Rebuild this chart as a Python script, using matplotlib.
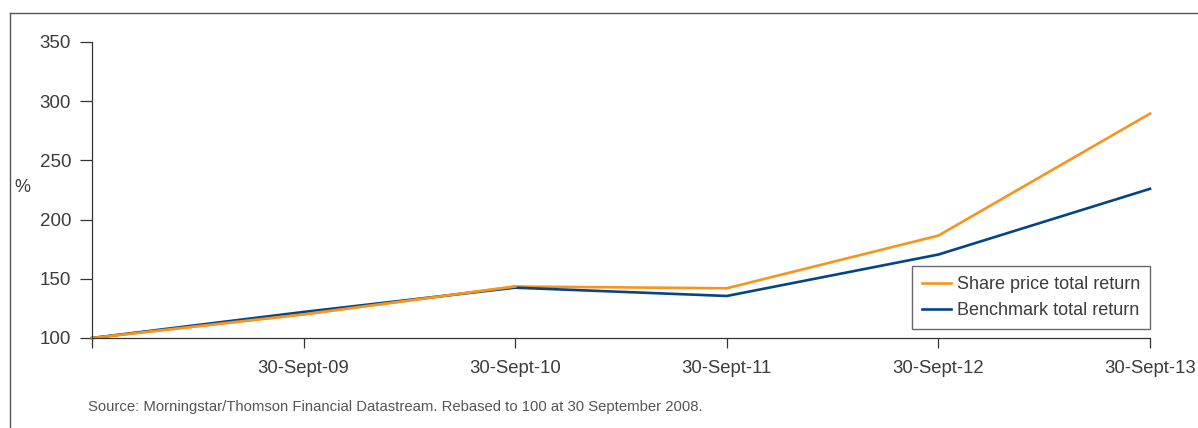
import matplotlib
matplotlib.use("Agg")
import matplotlib.pyplot as plt
from matplotlib.lines import Line2D

dates = ["", "30-Sept-09", "30-Sept-10", "30-Sept-11", "30-Sept-12", "30-Sept-13"]
share_price = [100, 120, 143.5, 142, 186.5, 289.5]
benchmark = [100, 122, 142.5, 135.5, 170.5, 226]
yticks = [100, 150, 200, 250, 300, 350]

orange = "#F7941D"
blue = "#05448A"
text_col = "#3c3c3c"
axis_col = "#333333"

plt.rcParams["font.family"] = ["Liberation Sans", "DejaVu Sans"]

fig = plt.figure(figsize=(11.98, 4.28), dpi=100)
ax = fig.add_axes([92 / 1198, (428 - 338) / 428, 1058 / 1198, 296 / 428])

x = list(range(len(dates)))
ax.plot(x, share_price, color=orange, lw=1.9, label="Share price total return")
ax.plot(x, benchmark, color=blue, lw=1.9, label="Benchmark total return")
# orange on top where the lines overlap early on
ax.plot(x[:3], share_price[:3], color=orange, lw=1.9)

ax.set_xlim(0, len(dates) - 1)
ax.set_ylim(100, 350)
ax.set_xticks(x)
ax.set_xticklabels(dates)
ax.set_yticks(yticks)

for s in ["top", "right"]:
    ax.spines[s].set_visible(False)
for s in ["left", "bottom"]:
    ax.spines[s].set_color(axis_col)
    ax.spines[s].set_linewidth(0.9)

ax.tick_params(axis="y", length=9, width=0.9, color=axis_col, labelsize=13.5, labelcolor=text_col, pad=6)
ax.tick_params(axis="x", length=7.5, width=0.9, color=axis_col, labelsize=13.3, labelcolor=text_col, pad=8.2)
for sp in ax.spines.values():
    sp.set_clip_on(False)
for line in ax.get_lines():
    line.set_clip_on(False)

leg = ax.legend(loc="lower right", bbox_to_anchor=(1.0, 0.03), borderaxespad=0,
                fontsize=13, frameon=True, fancybox=False, handlelength=1.6,
                handletextpad=0.35, borderpad=0.55, labelspacing=0.5)
leg.get_frame().set_edgecolor("#444444")
leg.get_frame().set_linewidth(1.0)
for t in leg.get_texts():
    t.set_color(text_col)

fig.text(22 / 1198, 1 - 187 / 428, "%", fontsize=13, color=text_col, ha="center", va="center")
fig.text(88 / 1198, 1 - 407 / 428, "Source: Morningstar/Thomson Financial Datastream. Rebased to 100 at 30 September 2008.",
         fontsize=10.7, color="#555555", ha="left", va="center")

# outer frame (left and top edges visible)
fig.add_artist(Line2D([9.5 / 1198, 9.5 / 1198], [0, 1 - 12.5 / 428], transform=fig.transFigure, color="#555555", lw=1.0))
fig.add_artist(Line2D([9.5 / 1198, 1], [1 - 12.5 / 428, 1 - 12.5 / 428], transform=fig.transFigure, color="#555555", lw=1.0))

fig.savefig("out.png", dpi=100)
